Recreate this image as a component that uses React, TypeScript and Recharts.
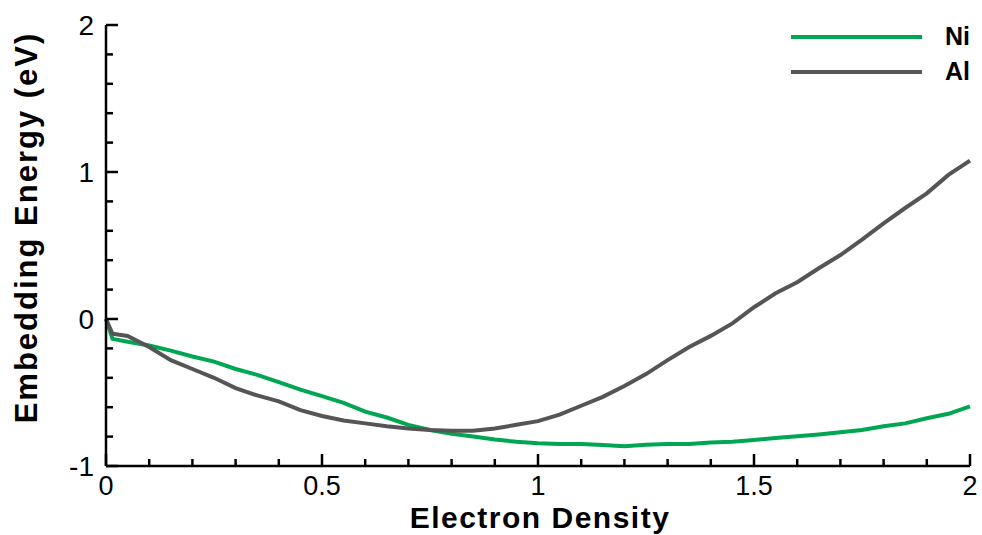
import { LineChart, Line, XAxis, YAxis, Legend, Label } from 'recharts';

// electron density samples (x axis)
const density = [
    0, 0.015, 0.05, 0.1, 0.15, 0.2, 0.25, 0.3, 0.35, 0.4, 0.45, 0.5, 0.55, 0.6, 0.65, 0.7,
    0.75, 0.8, 0.85, 0.9, 0.95, 1.0, 1.05, 1.1, 1.15, 1.2, 1.25, 1.3, 1.35, 1.4, 1.45, 1.5,
    1.55, 1.6, 1.65, 1.7, 1.75, 1.8, 1.85, 1.9, 1.95, 2.0,
];

// embedding energy (eV)
const niEnergy = [
    0, -0.135, -0.155, -0.18, -0.215, -0.255, -0.29, -0.34, -0.38, -0.43, -0.48, -0.525, -0.57, -0.63, -0.67, -0.72,
    -0.755, -0.78, -0.8, -0.82, -0.835, -0.845, -0.85, -0.85, -0.857, -0.865, -0.855, -0.85, -0.85, -0.84, -0.835, -0.823,
    -0.81, -0.797, -0.785, -0.77, -0.755, -0.73, -0.71, -0.675, -0.645, -0.595,
];
const alEnergy = [
    0, -0.1, -0.115, -0.19, -0.28, -0.34, -0.4, -0.47, -0.52, -0.56, -0.62, -0.66, -0.69, -0.71, -0.73, -0.745,
    -0.755, -0.76, -0.76, -0.745, -0.72, -0.695, -0.65, -0.59, -0.53, -0.456, -0.375, -0.28, -0.19, -0.115, -0.03, 0.08,
    0.175, 0.25, 0.345, 0.435, 0.54, 0.65, 0.755, 0.855, 0.98, 1.077,
];

const xTicks = [0, 0.1, 0.2, 0.3, 0.4, 0.5, 0.6, 0.7, 0.8, 0.9, 1, 1.1, 1.2, 1.3, 1.4, 1.5, 1.6, 1.7, 1.8, 1.9, 2];
const xMajor = [0, 0.5, 1, 1.5, 2];
const yTicks = [-1, -0.8, -0.6, -0.4, -0.2, 0, 0.2, 0.4, 0.6, 0.8, 1, 1.2, 1.4, 1.6, 1.8, 2];
const yMajor = [-1, 0, 1, 2];

const seriesNames = ['Ni', 'Al'];
const seriesColors = ['#00a651', '#555555'];

const data = density.map((d, i) => ({ d, Ni: niEnergy[i], Al: alEnergy[i] }));

const FONT = 'Liberation Sans, Arial, sans-serif';

const isMajor = (list: number[], v: number) => list.some((m) => Math.abs(m - v) < 1e-6);

const XTick = (props: any) => {
    const { x, y, payload } = props;
    const major = isMajor(xMajor, payload.value);
    return (
        <g>
            <line x1={x} y1={y} x2={x} y2={y - (major ? 12 : 7)} stroke="#000" strokeWidth={2.5} />
            {major && (
                <text x={x} y={y + 29} textAnchor="middle" fontSize={27} fontFamily={FONT} fill="#000">
                    {String(payload.value)}
                </text>
            )}
        </g>
    );
};

const YTick = (props: any) => {
    const { x, y, payload } = props;
    const major = isMajor(yMajor, payload.value);
    return (
        <g>
            <line x1={x} y1={y} x2={x + (major ? 12 : 7)} y2={y} stroke="#000" strokeWidth={2.5} />
            {major && (
                <text x={x - 12} y={y + 10} textAnchor="end" fontSize={28} fontFamily={FONT} fill="#000">
                    {String(payload.value)}
                </text>
            )}
        </g>
    );
};

const renderLegend = (props: any) => {
    const items = [...(props.payload || [])].sort(
        (a, b) => seriesNames.indexOf(a.value) - seriesNames.indexOf(b.value)
    );
    return (
        <div>
            {items.map((entry) => (
                <div key={entry.value} style={{ display: 'flex', alignItems: 'center', height: 35 }}>
                    <div style={{ width: 131, height: 4, background: entry.color }}></div>
                    <span style={{ marginLeft: 23, fontFamily: FONT, fontWeight: 'bold', fontSize: 25, color: '#000', lineHeight: '35px' }}>
                        {entry.value}
                    </span>
                </div>
            ))}
        </div>
    );
};

const App = () => {
    return (
        <div style={{ position: 'absolute', left: 0, top: 0, background: '#fff' }}>
            <LineChart width={982} height={535} data={data} margin={{ top: 25, right: 12, bottom: 0, left: 0 }}>
                <XAxis
                    dataKey="d"
                    type="number"
                    domain={[0, 2]}
                    ticks={xTicks}
                    interval={0}
                    height={69}
                    tickSize={0}
                    tickMargin={0}
                    tickLine={false}
                    tick={<XTick />}
                    axisLine={{ stroke: '#000', strokeWidth: 2.5 }}
                >
                    <Label
                        value="Electron Density"
                        position="insideBottom"
                        offset={7}
                        dx={2}
                        style={{ fontFamily: FONT, fontWeight: 'bold', fontSize: 30, fill: '#000', letterSpacing: 1.5 }}
                    />
                </XAxis>
                <YAxis
                    type="number"
                    domain={[-1, 2]}
                    ticks={yTicks}
                    interval={0}
                    width={106}
                    tickSize={0}
                    tickMargin={0}
                    tickLine={false}
                    tick={<YTick />}
                    axisLine={{ stroke: '#000', strokeWidth: 2.5 }}
                >
                    <Label
                        value="Embedding Energy (eV)"
                        position="insideLeft"
                        angle={-90}
                        offset={26}
                        dy={-18}
                        style={{ fontFamily: FONT, fontWeight: 'bold', fontSize: 31, fill: '#000', letterSpacing: 2, textAnchor: 'middle' }}
                    />
                </YAxis>
                <Legend
                    layout="horizontal"
                    align="center"
                    verticalAlign="middle"
                    content={renderLegend}
                    wrapperStyle={{ top: 19, left: 791, width: 190, height: 70 }}
                />
                {seriesNames.map((name, i) => (
                    <Line
                        key={name}
                        type="linear"
                        dataKey={name}
                        stroke={seriesColors[i]}
                        strokeWidth={4}
                        dot={false}
                        activeDot={false}
                        isAnimationActive={false}
                    />
                ))}
            </LineChart>
        </div>
    );
};

export default App;
